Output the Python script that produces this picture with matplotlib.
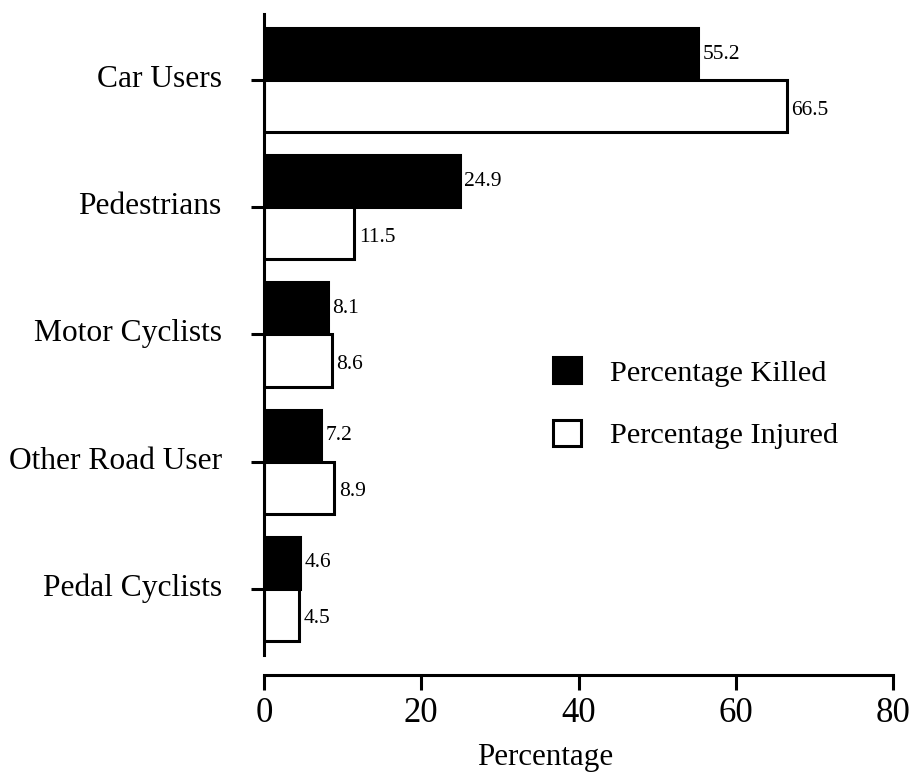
import numpy as np
import matplotlib
matplotlib.use("Agg")
import matplotlib.pyplot as plt
import matplotlib.transforms as mtransforms
from matplotlib.patches import Patch

categories = ["Car Users", "Pedestrians", "Motor Cyclists", "Other Road User", "Pedal Cyclists"]
killed = [55.2, 24.9, 8.1, 7.2, 4.6]
injured = [66.5, 11.5, 8.6, 8.9, 4.5]
xticks = [0, 20, 40, 60, 80]

plt.rcParams['font.family'] = ['Liberation Serif', 'DejaVu Serif']

fig = plt.figure(figsize=(9.1, 7.74), dpi=100)
ax = fig.add_axes([264/910, 1-655/774, (893-264)/910, (655-14)/774])

lw = 2.2
# spine setup first: set_position resets tick settings
for s in ["top", "right"]:
    ax.spines[s].set_visible(False)
ax.spines["left"].set_linewidth(lw)
ax.spines["bottom"].set_linewidth(lw)
ax.spines["bottom"].set_position(("outward", 14.5))

y = np.arange(len(categories))
h = 0.41

ax.barh(y - h/2, killed, height=h, color="black", edgecolor="black", linewidth=lw)
ax.barh(y + h/2, injured, height=h, color="white", edgecolor="black", linewidth=lw)

for i in range(len(categories)):
    ax.text(killed[i] + 0.6, y[i] - h/2, f"{killed[i]:.1f}", va="center", ha="left", fontsize=15.5)
    ax.text(injured[i] + 0.6, y[i] + h/2 + 0.03, f"{injured[i]:.1f}", va="center", ha="left", fontsize=15.5)

ax.set_ylim(4.52, -0.52)
ax.set_xlim(0, 80)
ax.set_yticks(y)
ax.set_yticklabels(categories, fontsize=22.7)
ax.set_xticks(xticks)
ax.set_xticklabels([str(t) for t in xticks], fontsize=25)

ax.tick_params(axis="y", length=9.5, width=lw, pad=21)
ax.tick_params(axis="x", length=11, width=lw, pad=5, direction="out")

# category labels sit a little above their ticks
up = mtransforms.ScaledTranslation(0, 4/100, fig.dpi_scale_trans)
for lab in ax.get_yticklabels():
    lab.set_transform(lab.get_transform() + up)

ax.set_xlabel("Percentage", fontsize=22.3)
ax.xaxis.set_label_coords(0.447, -0.138)

handles = [Patch(facecolor="black", edgecolor="black", linewidth=lw, label="Percentage Killed"),
           Patch(facecolor="white", edgecolor="black", linewidth=lw, label="Percentage Injured")]
ax.legend(handles=handles, frameon=False, fontsize=21.9, handlelength=0.92, handleheight=0.92,
          handletextpad=0.95, labelspacing=1.1, loc="upper left",
          bbox_to_anchor=((526-264)/629, 1-(330-14)/641))

fig.savefig("out.png", dpi=100)
